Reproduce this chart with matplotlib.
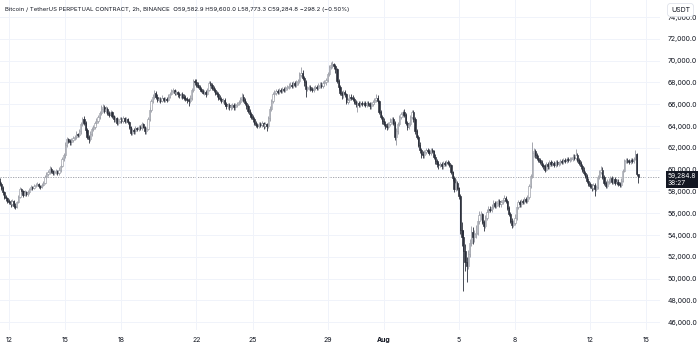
import pandas as pd
import matplotlib
matplotlib.use('Agg')
import matplotlib.pyplot as plt

# BTCUSDT perpetual, 2h candles, Jul 11 12:00 -> Aug 14 14:00
start = '2024-07-11 12:00'
first_open = 59000

closes = [
    58700, 58300, 57900, 57500, 57400, 57100,                                # Jul 11
    57000, 56800, 57100, 56700, 56600, 57000, 57500, 58200, 58000, 57700, 57900, 57800,  # Jul 12
    57900, 58200, 58400, 58300, 58500, 58600, 58700, 58500, 58400, 58600, 58800, 59300,  # Jul 13
    59600, 59800, 60100, 59900, 59700, 59800, 59900, 59700, 60000, 60300, 61000, 61300,  # Jul 14
    62300, 62800, 62600, 62500, 62700, 62900, 63000, 63300, 63200, 63500, 64200, 64600,  # Jul 15
    64300, 63600, 63000, 62800, 63300, 63700, 63900, 64300, 64500, 64800, 65200, 65600,  # Jul 16
    65700, 65400, 65600, 65200, 65000, 65300, 64900, 64600, 64700, 64300, 64500, 64600,  # Jul 17
    64500, 64700, 64500, 64600, 64400, 63900, 63400, 63600, 63500, 63800, 63700, 63900,  # Jul 18
    63800, 64200, 63900, 63500, 63700, 64600, 65500, 66300, 66700, 67000, 66700, 66400,  # Jul 19
    66500, 66300, 66600, 66400, 66500, 66400, 66700, 66900, 67200, 67300, 67000, 67100,  # Jul 20
    66900, 66800, 66900, 66700, 66600, 66500, 66400, 66300, 66600, 67300, 68100, 68000,  # Jul 21
    67800, 67600, 67400, 67200, 67000, 67100, 66900, 67300, 67900, 67800, 67500, 67300,  # Jul 22
    67000, 66900, 66600, 66500, 66300, 66400, 66000, 65800, 65900, 65700, 65800, 65900,  # Jul 23
    65700, 65900, 66000, 66200, 66500, 66700, 66400, 66100, 65800, 65400, 65100, 64800,  # Jul 24
    64600, 64300, 64100, 64000, 64200, 64100, 64300, 64000, 64200, 64000, 64700, 65600,  # Jul 25
    66300, 66900, 67000, 67200, 67100, 67300, 67200, 67400, 67300, 67500, 67600, 67700,  # Jul 26
    67800, 67700, 67900, 67800, 68000, 68100, 68700, 68900, 68400, 68000, 67400, 67500,  # Jul 27
    67600, 67400, 67300, 67500, 67600, 67500, 67700, 67800, 67700, 67900, 68000, 68200,  # Jul 28
    68800, 69400, 69600, 69700, 69500, 69200, 68100, 67600, 67000, 66800, 67100, 66900,  # Jul 29
    66200, 66400, 66700, 66600, 66500, 66200, 66000, 66100, 65900, 66100, 66000, 66100,  # Jul 30
    65900, 66100, 66000, 65800, 66000, 66200, 66400, 66600, 66300, 65300, 64800, 64500,  # Jul 31
    64200, 64000, 63900, 64200, 64400, 64600, 64300, 63000, 63500, 64200, 64800, 65100,  # Aug 1
    65300, 65000, 64300, 63900, 64200, 64800, 65300, 64600, 63500, 63000, 62300, 61800,  # Aug 2
    61400, 61300, 61600, 61800, 61700, 61500, 61800, 61700, 61200, 60800, 60500, 60400,  # Aug 3
    60500, 60300, 60600, 60500, 60700, 60600, 60400, 59800, 59200, 58200, 58800, 58300,  # Aug 4
    57600, 54500, 53800, 52500, 51500, 51200, 52300, 53300, 54300, 53800, 54100, 54200,  # Aug 5
    55300, 55800, 55900, 55200, 54800, 55600, 56100, 56400, 56300, 56600, 56900, 56700,  # Aug 6
    56900, 57100, 56800, 57000, 57200, 57400, 57100, 56500, 55900, 55300, 54900, 55100,  # Aug 7
    55600, 56600, 57000, 56800, 57100, 57000, 57300, 57100, 57500, 58500, 59400, 61500,  # Aug 8
    61700, 61300, 61100, 60900, 60700, 60400, 60300, 60000, 60500, 60300, 60700, 60500,  # Aug 9
    60600, 60400, 60700, 60500, 60600, 60800, 60700, 60900, 60800, 61000, 60900, 61000,  # Aug 10
    61000, 61200, 61100, 61300, 60900, 60600, 60300, 60000, 59700, 59400, 59000, 58700,  # Aug 11
    58500, 58300, 58600, 58200, 58400, 59300, 59800, 60000, 59300, 58800, 58500, 58900,  # Aug 12
    59000, 59200, 58900, 59100, 58800, 58900, 58700, 58600, 59000, 59900, 60800, 60900,  # Aug 13
    60800, 60700, 60900, 60800, 61000, 61400, 59582.9, 59284.8,                          # Aug 14
]

highs = [
    59200, 58900, 58500, 58000, 57700, 57500,
    57300, 57200, 57300, 57200, 56900, 57100, 57700, 58400, 58300, 58100, 58100, 58000,
    58100, 58300, 58600, 58500, 58700, 58800, 58900, 58800, 58600, 58800, 59000, 59500,
    59800, 60000, 60300, 60200, 60000, 60000, 60100, 60000, 60200, 60500, 61200, 61500,
    62500, 63000, 62900, 62800, 62900, 63100, 63200, 63500, 63400, 63700, 64400, 64800,
    64900, 64500, 63800, 63200, 63500, 63900, 64100, 64500, 64700, 65000, 65400, 65900,
    66000, 65900, 65800, 65700, 65400, 65500, 65400, 65000, 64900, 64800, 64700, 64800,
    64800, 64900, 64800, 64800, 64700, 64500, 64000, 63800, 63800, 64000, 63900, 64100,
    64100, 64400, 64300, 64000, 63900, 64800, 65700, 66500, 66900, 67300, 67200, 66900,
    66700, 66700, 66800, 66700, 66700, 66700, 66900, 67100, 67400, 67500, 67400, 67300,
    67200, 67100, 67000, 67100, 66900, 66800, 66700, 66600, 66800, 67500, 68300, 68300,
    68300, 68000, 67800, 67600, 67400, 67300, 67300, 67500, 68100, 68100, 67900, 67700,
    67500, 67200, 67100, 66800, 66700, 66600, 66600, 66200, 66100, 66100, 66000, 66100,
    66100, 66100, 66200, 66400, 66700, 67000, 66900, 66600, 66300, 66000, 65600, 65300,
    65000, 64800, 64500, 64300, 64400, 64400, 64500, 64400, 64400, 64300, 64900, 65800,
    66500, 67100, 67300, 67400, 67400, 67500, 67500, 67600, 67600, 67700, 67800, 67900,
    68000, 68000, 68100, 68100, 68200, 68300, 69000, 69400, 69100, 68600, 68200, 67700,
    67800, 67800, 67600, 67700, 67800, 67800, 67900, 68000, 68000, 68100, 68200, 68400,
    69000, 69600, 69900, 70000, 69800, 69700, 69300, 68300, 67800, 67200, 67300, 67300,
    67000, 66600, 66900, 66900, 66800, 66700, 66400, 66300, 66300, 66300, 66300, 66300,
    66300, 66300, 66300, 66200, 66200, 66400, 66600, 66900, 66800, 66400, 65500, 65000,
    64700, 64500, 64300, 64400, 64700, 64800, 64800, 64500, 63800, 64400, 65000, 65300,
    65500, 65600, 65200, 64500, 64400, 65000, 65500, 65500, 64800, 63700, 63200, 62500,
    62000, 61700, 61800, 62000, 62000, 61900, 62000, 62000, 61800, 61400, 61000, 60700,
    60700, 60700, 60800, 60800, 60900, 60900, 60800, 60500, 59900, 59400, 59100, 59000,
    58400, 57800, 55200, 54500, 53200, 52000, 52600, 53600, 54800, 54700, 54500, 54900,
    55600, 56200, 56200, 56000, 55400, 55800, 56400, 56700, 56700, 56800, 57200, 57100,
    57100, 57300, 57300, 57200, 57400, 57700, 57600, 57300, 56700, 56100, 55600, 55400,
    55900, 56800, 57200, 57200, 57300, 57300, 57500, 57500, 57700, 58700, 59600, 62500,
    62000, 61900, 61500, 61300, 61100, 60900, 60600, 60500, 60700, 60700, 60900, 60900,
    60800, 60800, 60900, 60900, 60800, 61000, 61000, 61100, 61100, 61200, 61200, 61200,
    61200, 61400, 61400, 61900, 61500, 61100, 60800, 60500, 60200, 59900, 59600, 59200,
    58900, 58700, 58800, 58800, 58600, 59500, 60000, 60300, 60200, 59500, 59000, 59100,
    59200, 59400, 59400, 59300, 59300, 59100, 59100, 58900, 59200, 60100, 61000, 61100,
    61100, 61000, 61100, 61100, 61200, 61800, 61500, 59600.0,
]

lows = [
    58500, 58100, 57700, 57300, 57100, 56900,
    56800, 56600, 56700, 56500, 56400, 56500, 56900, 57400, 57800, 57500, 57600, 57600,
    57600, 57800, 58100, 58100, 58200, 58400, 58500, 58300, 58200, 58300, 58500, 58700,
    59100, 59400, 59600, 59700, 59500, 59500, 59600, 59500, 59500, 59800, 60200, 60800,
    61100, 62100, 62400, 62300, 62300, 62500, 62700, 62800, 63000, 63000, 63300, 64000,
    64100, 63400, 62800, 62400, 62600, 63100, 63500, 63700, 64100, 64300, 64600, 65000,
    65300, 65200, 65200, 65000, 64800, 64800, 64700, 64400, 64400, 64100, 64100, 64300,
    64300, 64300, 64300, 64300, 64200, 63700, 63200, 63200, 63300, 63300, 63500, 63500,
    63600, 63600, 63800, 63300, 63300, 63600, 64500, 65300, 66100, 66500, 66500, 66200,
    66200, 66100, 66200, 66200, 66200, 66200, 66300, 66600, 66800, 67000, 66800, 66800,
    66700, 66600, 66600, 66500, 66400, 66300, 66100, 65800, 66100, 66400, 67100, 67800,
    67600, 67500, 67300, 67100, 66900, 66800, 66700, 66800, 67200, 67600, 67300, 67100,
    66800, 66700, 66400, 66300, 66100, 66100, 65800, 65600, 65600, 65500, 65500, 65600,
    65500, 65500, 65700, 65900, 66000, 66300, 66200, 65900, 65600, 65200, 64900, 64600,
    64400, 64100, 63900, 63800, 63800, 63900, 63900, 63700, 63800, 63500, 63800, 64500,
    65400, 66100, 66700, 66800, 66900, 66900, 67000, 67000, 67100, 67100, 67300, 67400,
    67500, 67500, 67500, 67600, 67600, 67800, 67900, 68500, 68200, 67700, 66700, 67200,
    67300, 67200, 67100, 67100, 67300, 67300, 67300, 67500, 67500, 67500, 67700, 67800,
    68000, 68600, 69200, 69300, 69200, 68900, 67900, 67300, 66800, 66500, 66600, 66700,
    66000, 66000, 66200, 66400, 66300, 66000, 65700, 65300, 65700, 65700, 65800, 65800,
    65700, 65700, 65800, 65600, 65600, 65800, 66000, 66200, 66100, 65100, 64600, 64200,
    64000, 63700, 63600, 63700, 64000, 64200, 64100, 62700, 62300, 63300, 64000, 64600,
    64800, 64800, 64100, 63600, 63700, 64000, 64600, 64400, 63300, 62800, 62100, 61500,
    61100, 61100, 61100, 61400, 61500, 61300, 61300, 61500, 61000, 60500, 60200, 60100,
    60200, 60100, 60100, 60300, 60300, 60400, 60200, 59600, 59000, 57900, 58000, 58100,
    57300, 54100, 53000, 48900, 50700, 49700, 50900, 52000, 53000, 53200, 53400, 53700,
    54000, 55000, 55400, 55000, 54400, 54600, 55400, 55900, 56100, 56100, 56400, 56500,
    56500, 56700, 56600, 56600, 56800, 57000, 56900, 56300, 55700, 55100, 54600, 54700,
    54900, 55400, 56400, 56600, 56600, 56800, 56800, 56900, 56900, 57300, 58300, 59200,
    61200, 61100, 60900, 60700, 60500, 60200, 60100, 59800, 59900, 60100, 60100, 60300,
    60300, 60200, 60200, 60300, 60300, 60400, 60500, 60500, 60600, 60600, 60700, 60700,
    60800, 60800, 60900, 60900, 60700, 60400, 60100, 59800, 59500, 59200, 58800, 58500,
    58300, 58000, 58100, 57600, 58000, 58200, 59100, 59600, 59100, 58600, 58300, 58300,
    58700, 58800, 58700, 58700, 58600, 58600, 58500, 58400, 58400, 58900, 59800, 60600,
    60600, 60500, 60500, 60600, 60600, 60900, 59400, 58773.3,
]

tick_days = ['2024-07-12', '2024-07-15', '2024-07-18', '2024-07-22', '2024-07-25', '2024-07-29',
             '2024-08-01', '2024-08-05', '2024-08-08', '2024-08-12', '2024-08-15']
tick_labels = ['12', '15', '18', '22', '25', '29', 'Aug', '5', '8', '12', '15']
price_ticks = list(range(46000, 76000, 2000))

title = 'Bitcoin / TetherUS PERPETUAL CONTRACT, 2h, BINANCE'
ohlc_text = 'O59,582.9 H59,600.0 L58,773.3 C59,284.8 \u2212298.2 (\u22120.50%)'
countdown = '38:27'

opens = [first_open] + closes[:-1]
t0 = pd.Timestamp(start)
n = len(closes)
x = list(range(n))
tick_pos = [(pd.Timestamp(d) - t0) / pd.Timedelta('2h') for d in tick_days]

up_col = '#ffffff'
up_edge = '#9598a1'
dn_col = '#2a2e39'
text_col = '#131722'

plt.rcParams['font.family'] = ['Inter', 'DejaVu Sans']

fig = plt.figure(figsize=(7, 3.52), dpi=100)
ax = fig.add_axes([0, 22/352, 660/700, 330/352])

for i in x:
    o, c, h, l = opens[i], closes[i], highs[i], lows[i]
    up = c >= o
    wick = up_edge if up else dn_col
    ax.vlines(i, l, h, color=wick, lw=0.6, zorder=2)
    bottom = min(o, c)
    height = max(abs(c - o), 40)
    ax.bar(i, height, bottom=bottom, width=0.8, color=up_col if up else dn_col,
           edgecolor=up_edge if up else dn_col, linewidth=0.45, zorder=3)

ax.axhline(closes[-1], color='#9598a1', lw=0.6, ls=(0, (1.5, 1.5)), zorder=1)

ax.set_xlim(0.24, 422.85)
ax.set_ylim(45285, 75560)
ax.set_xticks(tick_pos)
ax.set_xticklabels(tick_labels)
for lab in ax.get_xticklabels():
    if lab.get_text() == 'Aug':
        lab.set_fontweight('bold')
ax.set_yticks(price_ticks)
ax.set_yticklabels([f'{p:,.1f}' for p in price_ticks])
ax.yaxis.tick_right()
ax.tick_params(axis='both', length=0, labelsize=5, colors=text_col)
ax.tick_params(axis='y', pad=5.5)
ax.tick_params(axis='x', pad=5)
ax.grid(color='#f0f3fa', lw=0.7, zorder=0)
for s in ax.spines.values():
    s.set_visible(False)

ax.annotate(f'{closes[-1]:,.1f}\n{countdown}', xy=(1.0, closes[-1]),
            xycoords=('axes fraction', 'data'), xytext=(5.5, -1.5), textcoords='offset points',
            ha='left', va='center', fontsize=4.8, color='white', linespacing=1.1,
            bbox=dict(boxstyle='square,pad=0.28', fc=text_col, ec='none'),
            annotation_clip=False, zorder=10)

fig.text(5/700, 1 - 9/352, title + '  ' + ohlc_text, fontsize=4.35, color=text_col,
         ha='left', va='center')
fig.text(671/700, 1 - 10/352, 'USDT', fontsize=5, color=text_col, ha='left', va='center',
         bbox=dict(boxstyle='round,pad=0.5,rounding_size=0.4', fc='white', ec='#e0e3eb', lw=0.6),
         zorder=10)

fig.savefig('out.png', dpi=100, facecolor='white')
